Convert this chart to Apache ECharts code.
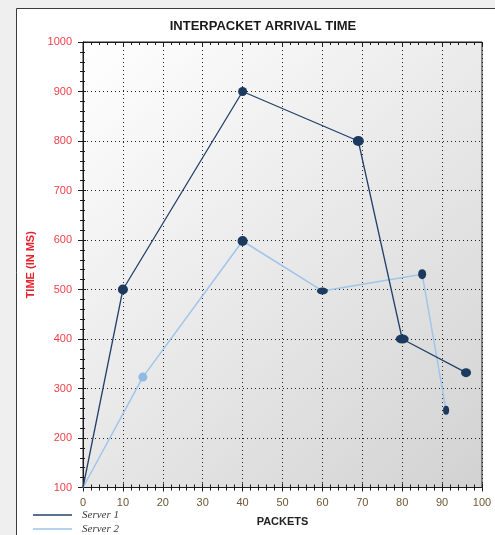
<!DOCTYPE html>
<html>
<head>
<meta charset="utf-8">
<script src="https://cdn.jsdelivr.net/npm/echarts@6/dist/echarts.min.js"></script>
<style>
  html, body { margin: 0; padding: 0; background: #efefef; }
  #chart { width: 495px; height: 535px; }
</style>
</head>
<body>
<div id="chart"></div>
<script>
// Packet index / arrival time (ms) for each server
const packets1 = [0, 10, 40, 69, 80, 96];
const time1    = [100, 500, 900, 800, 400, 332];
const packets2 = [0, 15, 40, 60, 85, 91];
const time2    = [100, 323, 598, 497, 531, 256];

// Marker sizes per point ([width, height]); first point has no marker
const size1 = [[0, 0], [10, 10], [9, 9], [11, 10], [13, 9], [10, 9]];
const size2 = [[0, 0], [9, 9], [10, 10], [11, 7], [8, 10], [6, 9]];

const seriesNames = ['Server 1', 'Server 2'];
const title = 'INTERPACKET ARRIVAL TIME';
const xName = 'PACKETS';
const yName = 'TIME (IN MS)';

const navy = '#1b3a5e';
const line1 = '#22406a';
const line2 = '#9fc6ea';
const lightMarker = '#8fbbe3';

function points(xs, ys, sizes, colors) {
  return xs.map((x, i) => ({
    value: [x, ys[i]],
    symbolSize: sizes[i],
    itemStyle: { color: colors[i] }
  }));
}

const colors1 = packets1.map(() => navy);
const colors2 = packets2.map((_, i) => (i === 1 ? lightMarker : navy));

const tickStyle = { color: '#1a1a1a', width: 1 };
const font = 'Liberation Sans, Arial, sans-serif';

function xAxisBase(extra) {
  return Object.assign({
    type: 'value', min: 0, max: 100, interval: 10,
    axisLine: { show: true, lineStyle: tickStyle },
    splitLine: { show: false },
    axisLabel: { show: false }
  }, extra);
}
function yAxisBase(extra) {
  return Object.assign({
    type: 'value', min: 100, max: 1000, interval: 100,
    axisLine: { show: true, lineStyle: tickStyle },
    splitLine: { show: false },
    axisLabel: { show: false }
  }, extra);
}

const chart = echarts.init(document.getElementById('chart'), null, { renderer: 'canvas' });

chart.setOption({
  animation: false,
  backgroundColor: '#efefef',
  graphic: [{
    type: 'rect', z: -10, silent: true,
    shape: { x: 16.5, y: 8.5, width: 500, height: 540 },
    style: { fill: '#ffffff', stroke: '#3a3a3a', lineWidth: 1 }
  }],
  title: {
    text: title, left: 258, top: 15, textAlign: 'center',
    textStyle: { fontFamily: font, fontSize: 13, fontWeight: 'bold', color: '#1a1a1a' }
  },
  legend: {
    orient: 'vertical', left: 33, top: 509, padding: 0,
    icon: 'rect', itemWidth: 39, itemHeight: 1.5, itemGap: 2,
    data: [
      { name: seriesNames[0], itemStyle: { color: line1 } },
      { name: seriesNames[1], itemStyle: { color: line2 } }
    ],
    textStyle: { fontFamily: 'Liberation Serif, serif', fontStyle: 'italic', fontSize: 11, color: '#3a3a3a', lineHeight: 12, padding: [0, 0, 0, 5] }
  },
  grid: {
    left: 83, top: 42, right: 13, bottom: 47.5,
    show: true, borderColor: '#222', borderWidth: 1,
    backgroundColor: {
      type: 'linear', x: 0, y: 0, x2: 1, y2: 1,
      colorStops: [{ offset: 0, color: '#ffffff' }, { offset: 1, color: '#d2d2d2' }]
    }
  },
  xAxis: [
    xAxisBase({
      position: 'bottom',
      name: xName, nameLocation: 'middle', nameGap: 29,
      nameTextStyle: { fontFamily: font, fontSize: 11, fontWeight: 'bold', color: '#222' },
      axisLabel: { show: true, margin: 10, fontFamily: font, fontSize: 11, color: '#6e5634' },
      axisTick: { show: true, inside: false, length: 4, lineStyle: tickStyle },
      minorTick: { show: true, splitNumber: 5, length: 3, lineStyle: tickStyle },
      splitLine: { show: true, lineStyle: { color: '#222', width: 1, type: [1, 3] } }
    }),
    xAxisBase({
      position: 'bottom',
      axisTick: { show: true, inside: true, length: 4, lineStyle: tickStyle },
      minorTick: { show: true, splitNumber: 5, length: 3, lineStyle: tickStyle }
    }),
    xAxisBase({
      position: 'top',
      axisTick: { show: true, inside: true, length: 4, lineStyle: tickStyle },
      minorTick: { show: true, splitNumber: 5, length: 3, lineStyle: tickStyle }
    })
  ],
  yAxis: [
    yAxisBase({
      position: 'left',
      name: yName, nameLocation: 'middle', nameGap: 40, nameRotate: 90,
      nameTextStyle: { fontFamily: font, fontSize: 11, fontWeight: 'bold', color: '#e8222c' },
      axisLabel: { show: true, margin: 11, fontFamily: font, fontSize: 11, color: '#f0404a', formatter: v => String(v) },
      axisTick: { show: true, inside: false, length: 5, lineStyle: tickStyle },
      minorTick: { show: true, splitNumber: 5, length: 3, lineStyle: tickStyle },
      splitLine: { show: true, lineStyle: { color: '#222', width: 1, type: [1, 3] } }
    }),
    yAxisBase({
      position: 'left',
      axisTick: { show: true, inside: true, length: 3, lineStyle: tickStyle },
      minorTick: { show: true, splitNumber: 5, length: 2, lineStyle: tickStyle }
    })
  ],
  series: [
    {
      name: seriesNames[0], type: 'line', xAxisIndex: 0, yAxisIndex: 0,
      symbol: 'circle', showAllSymbol: true, z: 3,
      lineStyle: { color: line1, width: 1.3 },
      itemStyle: { color: navy },
      data: points(packets1, time1, size1, colors1)
    },
    {
      name: seriesNames[1], type: 'line', xAxisIndex: 0, yAxisIndex: 0,
      symbol: 'circle', showAllSymbol: true, z: 2,
      lineStyle: { color: line2, width: 1.5 },
      itemStyle: { color: lightMarker },
      data: points(packets2, time2, size2, colors2)
    }
  ]
});
</script>
</body>
</html>
